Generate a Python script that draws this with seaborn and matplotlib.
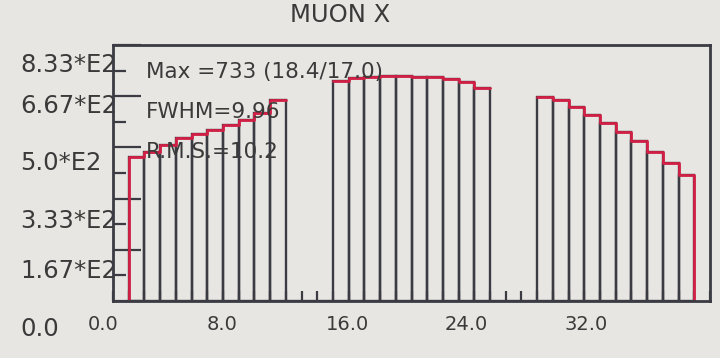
import numpy as np
import pandas as pd
import matplotlib
matplotlib.use("Agg")
import matplotlib.pyplot as plt
import matplotlib.transforms as mtransforms
import seaborn as sns

# ---- data ----
group1_edges = [1, 2, 3, 4, 5, 6, 7, 8, 9, 10, 11]
group1_counts = [470, 486, 508, 529, 542, 556, 574, 590, 612, 653]
group2_edges = [14, 15, 16, 17, 18, 19, 20, 21, 22, 23, 24]
group2_counts = [716, 727, 730, 731, 733, 730, 728, 722, 714, 694]
group3_edges = [27, 28, 29, 30, 31, 32, 33, 34, 35, 36, 37]
group3_counts = [664, 653, 630, 604, 579, 549, 521, 484, 449, 409]

title = "MUON X"
stats_lines = ["Max =733 (18.4/17.0)", "FWHM=9.96", "R.M.S.=10.2"]
x_ticks = [0, 8, 16, 24, 32]
x_ticklabels = ["0.0", "8.0", "16.0", "24.0", "32.0"]
y_ticks = [0, 166.67, 333.33, 500, 666.67, 833.33]
y_ticklabels = ["0.0", "1.67*E2", "3.33*E2", "5.0*E2", "6.67*E2", "8.33*E2"]

bg = "#e8e6e2"
dark = "#3b3b44"
red = "#d21f45"
txt = "#3a3a3a"

sns.set_theme(style="white")
plt.rcParams["font.family"] = ["DejaVu Sans"]

fig = plt.figure(figsize=(7.2, 3.58), dpi=100, facecolor=bg)
ax = fig.add_axes([113 / 720, 1 - 301 / 358, 597 / 720, 256 / 358])
ax.set_facecolor(bg)

centers, weights = [], []
for e, c in ((group1_edges, group1_counts), (group2_edges, group2_counts), (group3_edges, group3_counts)):
    for i, v in enumerate(c):
        centers.append(e[i] + 0.5)
        weights.append(v)
df = pd.DataFrame({"x": centers, "w": weights})

sns.histplot(data=df, x="x", weights="w", binwidth=1, binrange=(1, 37), fill=False,
             element="bars", color=dark, linewidth=1.7, ax=ax)


def red_step(edges, counts, rise_left=False, drop_right=False):
    xs = list(edges)
    ys = list(counts) + [counts[-1]]
    if rise_left:
        xs = [edges[0]] + xs
        ys = [0] + ys
    if drop_right:
        xs = xs + [edges[-1]]
        ys = ys + [0]
    sdf = pd.DataFrame({"x": xs, "y": ys})
    sns.lineplot(data=sdf, x="x", y="y", estimator=None, sort=False,
                 drawstyle="steps-post", color=red, linewidth=2.0, ax=ax)


red_step(group1_edges, group1_counts, rise_left=True)
red_step(group2_edges, group2_counts)
red_step(group3_edges, group3_counts, drop_right=True)

ax.set_xlim(0, 38)
ax.set_ylim(0, 833.33)
ax.set_xlabel("")
ax.set_ylabel("")

for s in ax.spines.values():
    s.set_color(dark)
    s.set_linewidth(2.0)

ax.set_xticks(np.arange(0, 39, 1), minor=True)
ax.set_xticks(x_ticks)
ax.set_xticklabels(x_ticklabels)
ax.set_yticks(np.arange(0, 834, 83.333), minor=True)
ax.set_yticks(y_ticks)
ax.set_yticklabels(y_ticklabels)
ax.tick_params(axis="x", which="both", direction="in", length=7, width=1.6,
               color=dark, labelsize=14, labelcolor=txt, pad=10, bottom=True, top=False)
ax.tick_params(axis="y", which="major", direction="in", length=20, width=1.6,
               color=dark, labelsize=17.5, labelcolor=txt, pad=0, left=True, right=False)
ax.tick_params(axis="y", which="minor", direction="in", length=9, width=1.6,
               color=dark, left=True, right=False)

# labels sit offset from their ticks, as in the original print
x_label_shift_px = [-10, -17, -17, -24, -30]
for lab, dx in zip(ax.get_xticklabels(), x_label_shift_px):
    lab.set_transform(lab.get_transform() + mtransforms.ScaledTranslation(dx / 100, 0, fig.dpi_scale_trans))
y_label_drop_px = [25, 19, 20, 13, 7, 17]
for lab, dy in zip(ax.get_yticklabels(), y_label_drop_px):
    lab.set_horizontalalignment("left")
    lab.set_transform(lab.get_transform() + mtransforms.ScaledTranslation(-93 / 100, -dy / 100, fig.dpi_scale_trans))

fig.text(340 / 720, 1 - 15 / 358, title, ha="center", va="center", fontsize=17.5, color=txt)
for i, line in enumerate(stats_lines):
    fig.text(146 / 720, 1 - (72 + 40 * i) / 358, line, ha="left", va="center",
             fontsize=15.5, color=txt)

fig.savefig("out.png", dpi=100, facecolor=bg)
